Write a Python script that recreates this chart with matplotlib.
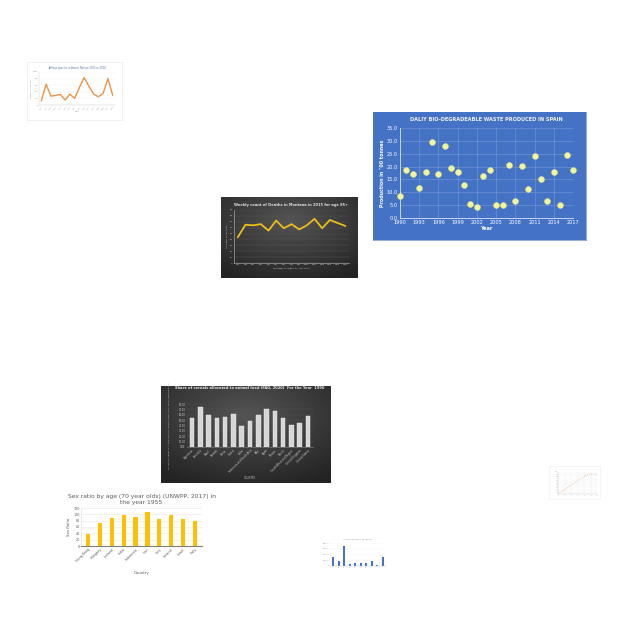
import matplotlib
matplotlib.use("Agg")
import matplotlib.pyplot as plt
import numpy as np

# ---- data ----
# top-left small orange line chart
orange_years = [str(y) for y in range(2003, 2019)]
orange_vals = [130, 630, 270, 290, 320, 150, 330, 200, 530, 830, 570, 330, 250, 350, 800, 300]

# Montana weekly deaths
week_labels = [f"W{i}" for i in range(1, 16)]
week_deaths = [44, 65, 64, 66, 55, 72, 59, 66, 57, 64, 75, 59, 73, 68, 63]

# Spain bio-degradable waste
spain_years = list(range(1990, 2018))
spain_waste = [8.5, 18.5, 17.0, 11.5, 18.0, 29.5, 17.0, 28.0, 19.5, 17.8,
               13.0, 5.5, 4.3, 16.3, 18.7, 5.0, 5.0, 20.7, 6.8, 20.3,
               11.3, 24.3, 15.3, 6.7, 18.0, 5.0, 24.5, 18.5]

# cereals to animal feed, 1996
cereal_countries = ["Argentina", "Australia", "Brazil", "Canada", "China",
                    "France", "India", "Indonesia and South Asia", "Italy", "Japan",
                    "Mexico", "Russia", "South Africa and Region", "United Kingdom", "United States"]
cereal_share = [54.4, 74.9, 58.9, 53.8, 56.3, 60.8, 39.0, 48.0, 58.9, 70.4,
                67.8, 53.1, 41.6, 44.8, 58.2]

# sex ratio 70 year olds, 1955
sex_countries = ["Hong Kong", "Hungary", "Iceland", "India", "Indonesia",
                 "Iran", "Iraq", "Ireland", "Israel", "Italy"]
sex_ratio = [37, 73, 87, 97, 91, 106, 86, 97, 84, 80]

# small blue bar chart
blue_labels = ["A", "B", "C", "D", "E", "F", "G", "H", "I", "J"]
blue_vals = [330000, 180000, 700000, 80000, 120000, 90000, 120000, 180000, 30000, 300000]

# tiny dotted line chart
tiny_x = [0, 1, 2, 3, 4, 5, 6, 7, 8, 9, 10, 11, 12]
tiny_y = [2, 10, 20, 30, 40, 50, 60, 70, 80, 88, 90, 90, 90]

W = H = 640
fig = plt.figure(figsize=(6.4, 6.4), dpi=100)
fig.patch.set_facecolor("white")


def box(x0, y0, x1, y1):
    return [x0 / W, 1 - y1 / H, (x1 - x0) / W, (y1 - y0) / H]


def dark_panel(x0, y0, x1, y1):
    ax = fig.add_axes(box(x0, y0, x1, y1))
    yy, xx = np.mgrid[-1:1:60j, -1:1:100j]
    r = np.sqrt(xx ** 2 + (yy + 0.4) ** 2)
    ax.imshow(0.33 - 0.12 * np.clip(r, 0, 1.6), cmap="gray", vmin=0, vmax=1,
              aspect="auto", extent=[0, 1, 0, 1])
    ax.axis("off")
    return ax


def plain_panel(x0, y0, x1, y1, color="white", edge="#e6e6e6"):
    ax = fig.add_axes(box(x0, y0, x1, y1))
    ax.set_facecolor(color)
    ax.set_xticks([])
    ax.set_yticks([])
    for s in ax.spines.values():
        s.set_color(edge)
        s.set_linewidth(0.4)
    return ax


# ---- 1: orange line chart ----
plain_panel(27, 62, 122, 120)
ax = fig.add_axes(box(39, 72, 115, 105))
x = np.arange(len(orange_vals))
ax.plot(x, orange_vals, color="#E9944A", lw=1.0)
ax.set_ylim(0, 1000)
ax.set_xlim(-0.5, len(x) - 0.5)
ax.set_xticks(x)
ax.set_xticklabels(orange_years, rotation=60, fontsize=1.3, color="#888888")
ax.set_yticks(range(0, 1001, 200))
ax.set_yticklabels([f"{v:,}" for v in range(0, 1001, 200)], fontsize=1.3, color="#888888")
ax.grid(axis="y", color="#eeeeee", lw=0.3)
ax.tick_params(length=0, pad=0.5)
for s in ["top", "right"]:
    ax.spines[s].set_visible(False)
for s in ["left", "bottom"]:
    ax.spines[s].set_color("#cccccc")
    ax.spines[s].set_linewidth(0.3)
ax.set_title("Jaffrays species in Amani Nature 2003 to 2018", fontsize=1.8, color="#5577aa", pad=2)
ax.set_xlabel("Year", fontsize=1.5, color="#888888", labelpad=1)
ax.set_ylabel("Number of individuals", fontsize=1.3, color="#888888", labelpad=1)

# ---- 2: Montana weekly deaths ----
dark_panel(221, 197, 358, 278)
ax = fig.add_axes(box(234, 210, 349, 263))
ax.set_facecolor("none")
x = np.arange(len(week_deaths))
ax.plot(x, week_deaths, color="#EBBE1A", lw=1.3)
ax.set_ylim(0, 90)
ax.set_xlim(-0.5, len(x) - 0.5)
ax.set_yticks(range(0, 91, 10))
ax.set_xticks(x)
ax.set_xticklabels(week_labels, fontsize=1.6, color="#cccccc")
ax.tick_params(axis="y", labelsize=1.6, labelcolor="#cccccc")
ax.tick_params(length=0, pad=1)
ax.grid(axis="y", color="#5a5a5a", lw=0.3)
for s in ["top", "right"]:
    ax.spines[s].set_visible(False)
for s in ["left", "bottom"]:
    ax.spines[s].set_color("#bbbbbb")
    ax.spines[s].set_linewidth(0.4)
ax.set_title("Weekly count of Deaths in Montana in 2015 for age 85+", fontsize=2.6,
             color="#dddddd", fontweight="bold", pad=3)
ax.set_xlabel("NUMBER OF WEEK OF THE YEAR", fontsize=1.6, color="#cccccc", labelpad=1.5)
ax.set_ylabel("NUMBER OF DEATHS", fontsize=1.6, color="#cccccc", labelpad=1)

# ---- 3: Spain scatter ----
plain_panel(373, 112, 586, 240, color="#4472C4", edge="#4472C4")
ax = fig.add_axes(box(400, 128, 573, 218))
ax.set_facecolor("#4472C4")
ax.scatter(spain_years, spain_waste, s=19, color="#F2F5A0", edgecolors="#D8DC80",
           linewidths=0.3, zorder=3, clip_on=False)
ax.set_ylim(0, 35)
ax.set_xlim(1990, 2017)
ax.set_yticks(np.arange(0, 35.1, 5))
ax.set_yticklabels([f"{v:.1f}" for v in np.arange(0, 35.1, 5)])
ax.set_xticks(range(1990, 2018, 3))
ax.tick_params(labelsize=3.6, labelcolor="white", length=0, pad=1.5)
ax.grid(color="#6F93D4", lw=0.5)
ax.set_axisbelow(True)
for s in ax.spines.values():
    s.set_visible(False)
for s in ["bottom", "left"]:
    ax.spines[s].set_visible(True)
    ax.spines[s].set_color("#D9E2F3")
    ax.spines[s].set_linewidth(0.6)
ax.set_title("DALIY BIO-DEGRADEABLE WASTE PRODUCED IN SPAIN", fontsize=3.6,
             color="#F2F2F2", fontweight="bold", pad=5)
ax.set_xlabel("Year", fontsize=3.6, color="white", fontweight="bold", labelpad=1)
ax.set_ylabel("Production in \"00 tonnes", fontsize=3.4, color="white",
              fontweight="bold", labelpad=1.5)

# ---- 4: cereals to animal feed ----
dark_panel(161, 386, 331, 483)
ax = fig.add_axes(box(187, 404, 313, 447))
ax.set_facecolor("none")
x = np.arange(len(cereal_share))
ax.bar(x, cereal_share, width=0.55, color="#D6D6D6", edgecolor="#F2F2F2", linewidth=0.3)
ax.set_ylim(0, 80)
ax.set_xlim(-0.6, len(x) - 0.4)
ax.set_yticks(range(0, 81, 10))
ax.set_yticklabels([f"{v:.2f}" for v in range(0, 81, 10)])
ax.set_xticks(x)
ax.set_xticklabels(cereal_countries, rotation=45, ha="right", rotation_mode="anchor")
ax.tick_params(labelsize=1.8, labelcolor="#cccccc", length=0, pad=1)
ax.grid(axis="y", color="#555555", lw=0.3)
ax.set_axisbelow(True)
for s in ["top", "right", "left"]:
    ax.spines[s].set_visible(False)
ax.spines["bottom"].set_color("#888888")
ax.spines["bottom"].set_linewidth(0.4)
ax.set_title("Share of cereals allocated to animal feed (FAO, 2020)  For the Year  1996",
             fontsize=2.6, color="#e6e6e6", fontweight="bold", pad=11)
ax.set_xlabel("COUNTRY", fontsize=1.8, color="#cccccc", labelpad=2)
ax.set_ylabel("SHARE OF CEREALS ALLOCATED TO ANIMAL FEED (FAO, 2020) (PERCENTAGE)",
              fontsize=1.6, color="#cccccc", labelpad=6)

# ---- 5: sex ratio ----
plain_panel(55, 487, 215, 578, edge="white")
ax = fig.add_axes(box(81, 508, 202, 546))
x = np.arange(len(sex_ratio))
ax.bar(x, sex_ratio, width=0.35, color="#FFC000")
ax.set_ylim(0, 120)
ax.set_xlim(-0.6, len(x) - 0.4)
ax.set_yticks(range(0, 121, 20))
ax.set_xticks(x)
ax.set_xticklabels(sex_countries, rotation=45, ha="right", rotation_mode="anchor")
ax.tick_params(labelsize=2.4, labelcolor="#595959", length=0, pad=1)
ax.grid(axis="y", color="#e6e6e6", lw=0.4)
ax.set_axisbelow(True)
for s in ["top", "right"]:
    ax.spines[s].set_visible(False)
ax.spines["bottom"].set_color("#7f7f7f")
ax.spines["bottom"].set_linewidth(0.8)
ax.spines["left"].set_color("#d9d9d9")
ax.spines["left"].set_linewidth(0.4)
ax.set_title("Sex ratio by age (70 year olds) (UNWPP, 2017) in\nthe year 1955",
             fontsize=4.3, color="#595959", pad=3, linespacing=1.3)
ax.set_xlabel("Country", fontsize=2.8, color="#595959", labelpad=6)
ax.set_ylabel("Sex Ratio", fontsize=2.8, color="#595959", labelpad=1.5)

# ---- 6: small blue bar chart ----
plain_panel(307, 533, 385, 574, edge="white")
ax = fig.add_axes(box(330, 543, 386, 566))
x = np.arange(len(blue_vals))
ax.bar(x, blue_vals, width=0.35, color="#4472C4")
ax.set_ylim(0, 800000)
ax.set_xlim(-0.6, len(x) - 0.4)
ax.set_yticks(range(0, 800001, 200000))
ax.set_yticklabels([f"{v:,}" for v in range(0, 800001, 200000)])
ax.set_xticks(x)
ax.set_xticklabels(blue_labels, rotation=45, ha="right", rotation_mode="anchor")
ax.tick_params(labelsize=1.2, labelcolor="#888888", length=0, pad=0.5)
ax.grid(axis="y", color="#eeeeee", lw=0.3)
ax.set_axisbelow(True)
for s in ["top", "right", "left"]:
    ax.spines[s].set_visible(False)
ax.spines["bottom"].set_color("#bbbbbb")
ax.spines["bottom"].set_linewidth(0.3)
ax.set_title("Annual population, by country", fontsize=1.4, color="#888888", pad=2)

# ---- 7: tiny dotted line chart ----
plain_panel(549, 466, 600, 499, edge="#eeeeee")
ax = fig.add_axes(box(558, 472, 597, 494))
ax.plot(tiny_x, tiny_y, color="#EDA060", lw=0.5, ls=":")
ax.set_ylim(0, 100)
ax.set_xlim(0, 12)
ax.set_yticks(range(0, 101, 10))
ax.set_xticks(range(0, 13, 2))
ax.tick_params(labelsize=1.0, labelcolor="#aaaaaa", length=0, pad=0.5)
ax.grid(color="#f0f0f0", lw=0.3)
for s in ["top", "right"]:
    ax.spines[s].set_visible(False)
for s in ["left", "bottom"]:
    ax.spines[s].set_color("#cccccc")
    ax.spines[s].set_linewidth(0.3)

fig.savefig("out.png", dpi=100, facecolor="white")
